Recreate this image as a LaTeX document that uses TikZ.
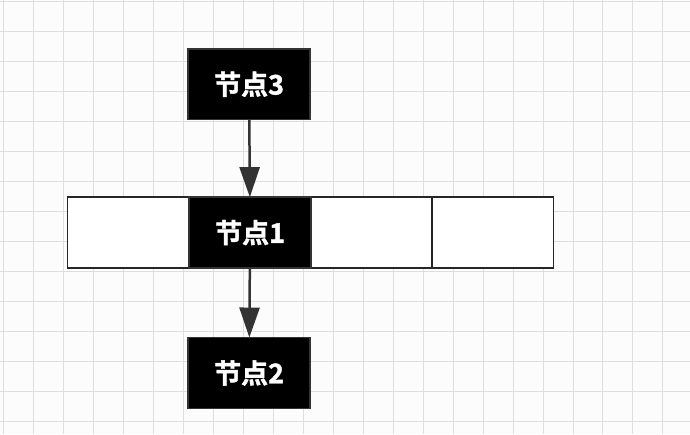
\documentclass[tikz,border=0pt]{standalone}
\usepackage{fontspec}
\newfontfamily\cjk{Noto Sans CJK SC Bold}[FakeBold=1.5]
\usetikzlibrary{arrows.meta}
\begin{document}
\begin{tikzpicture}[x=1pt,y=-1pt,
  blk/.style={draw=black!80,line width=1.5pt,fill=black,text=white,font=\cjk\fontsize{27}{30}\selectfont,minimum width=122pt,minimum height=71pt,inner sep=0pt,outer sep=0pt},
  cell/.style={draw=black!85,line width=1.5pt,fill=white,minimum width=121pt,minimum height=71pt,inner sep=0pt,outer sep=0pt},
  arr/.style={draw=black!80,line width=2.5pt,-{Triangle[length=30pt,width=20pt]}}]
\fill[white!98!gray] (0,0) rectangle (690,434);
\foreach \x in {3,33,...,690} \draw[black!13,line width=0.6pt] (\x,0) -- (\x,434);
\foreach \y in {1,31,...,434} \draw[black!13,line width=0.6pt] (0,\y) -- (690,\y);
\useasboundingbox (0,0) rectangle (690,434);
\node[blk] (n3) at (249,84) {节点3};
\node[cell] (c0) at (128,232.5) {};
\node[cell] (c2) at (371.5,232.5) {};
\node[cell] (c3) at (493,232.5) {};
\node[blk] (n1) at (250,232.5) {节点1};
\node[blk] (n2) at (249,373) {节点2};
\draw[arr] (n3) -- (n1);
\draw[arr] (n1) -- (n2);
\end{tikzpicture}
\end{document}
